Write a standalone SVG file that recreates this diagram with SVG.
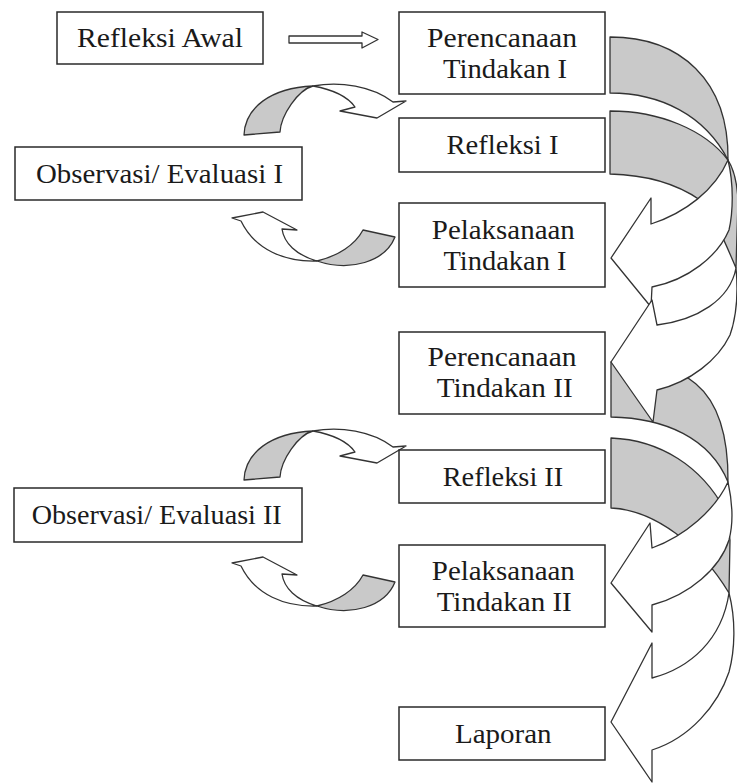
<svg xmlns="http://www.w3.org/2000/svg" width="737" height="783" viewBox="0 0 737 783">
<style>
.box{fill:#fff;stroke:#2a2a2a;stroke-width:1.5}
.t{font-family:"Liberation Serif","Times New Roman",serif;font-size:27px;fill:#1a1a1a;text-anchor:middle}
.w{fill:#fff;stroke:#333;stroke-width:1.3;stroke-linejoin:round}
.g{fill:#c9c9c9;stroke:#333;stroke-width:1.3;stroke-linejoin:round}
</style>
<defs>
<g id="smallLoop">
<path class="g" d="M244,135 C245,108 270,88 313,86 C298,90 281,115 280,132 Z"/>
<path class="w" d="M313,86 C340,81 372,86 393,102 L406,101 L377,118 L340,111 L355,107 C348,97 335,90 313,86 Z"/>
<path class="g" d="M317,261 C350,272 385,262 395,237 L363,230 C355,245 338,256 317,261 Z"/>
<path class="w" d="M317,261 C285,262 255,250 241,221 L232,218 L263,212 L297,230 L282,229 C284,243 296,255 317,261 Z"/>
</g>
</defs>
<rect width="737" height="783" fill="#fff"/>
<g id="connectors">
<path id="arrow-awal" class="w" d="M289,36 L362,36 L362,32 L378,39.5 L362,48 L362,43 L289,43 Z"/>
<use id="loop-1" href="#smallLoop"/>
<use id="loop-2" href="#smallLoop" transform="translate(0,345)"/>
<g id="spiral-1">
<path class="g" d="M610,111 L610,174 C650,175 680,186 700,200 C712,212 722,235 736,268 L738,200 C737,180 733,168 728,160 C705,130 660,111 610,111 Z"/>
<path class="g" d="M610,37 L610,93 C660,93 705,115 728,160 C729,80 680,37 610,37 Z"/>
<path class="w" d="M728,160 C734,185 733,212 729,230 C718,256 688,280 652,287 L651,307 L611,258 L651,198 L651,224 C685,213 715,190 728,160 Z"/>
</g>
<g id="spiral-2">
<path class="g" d="M611,438 C660,440 702,466 726,512 L730,540 L729,593 C700,545 655,510 611,508 Z"/>
<path class="g" d="M611,362 L611,417 C665,418 710,438 728,482 C729,380 680,362 611,362 Z"/>
<path class="w" d="M736,268 C738,290 737,315 730,335 C718,360 690,382 657,390 L653,422 L611,362 L652,300 L657,325 C697,320 730,300 736,268 Z"/>
<path class="w" d="M728,482 C733,505 733,525 729,540 C720,568 690,595 652,605 L652,632 L611,583 L650,523 L652,548 C685,536 715,510 728,482 Z"/>
<path class="w" d="M729,593 C736,620 735,650 729,672 C718,705 690,738 652,750 L652,782 L611,722 L652,643 L652,678 C690,668 722,640 729,593 Z"/>
</g>
</g>
<g id="refleksi-awal"><rect class="box" x="57" y="12" width="206" height="52"/><text class="t" x="160" y="47" textLength="166" lengthAdjust="spacingAndGlyphs">Refleksi Awal</text></g>
<g id="observasi-1"><rect class="box" x="15" y="147" width="287" height="53"/><text class="t" x="159.5" y="182.5" textLength="247" lengthAdjust="spacingAndGlyphs">Observasi/ Evaluasi I</text></g>
<g id="observasi-2"><rect class="box" x="14" y="488" width="288" height="54"/><text class="t" x="156.7" y="524" textLength="250" lengthAdjust="spacingAndGlyphs">Observasi/ Evaluasi II</text></g>
<g id="perencanaan-1"><rect class="box" x="399" y="12" width="206" height="82"/><text class="t" x="502" y="46.5" textLength="150" lengthAdjust="spacingAndGlyphs">Perencanaan</text><text class="t" x="505" y="77.5" textLength="124" lengthAdjust="spacingAndGlyphs">Tindakan I</text></g>
<g id="refleksi-1"><rect class="box" x="399" y="118" width="206" height="54"/><text class="t" x="502.5" y="154" textLength="112" lengthAdjust="spacingAndGlyphs">Refleksi I</text></g>
<g id="pelaksanaan-1"><rect class="box" x="399" y="203" width="206" height="84"/><text class="t" x="503.3" y="238.5" textLength="143" lengthAdjust="spacingAndGlyphs">Pelaksanaan</text><text class="t" x="505" y="270" textLength="123" lengthAdjust="spacingAndGlyphs">Tindakan I</text></g>
<g id="perencanaan-2"><rect class="box" x="399" y="332" width="206" height="82"/><text class="t" x="502" y="366" textLength="149" lengthAdjust="spacingAndGlyphs">Perencanaan</text><text class="t" x="504.7" y="397" textLength="136" lengthAdjust="spacingAndGlyphs">Tindakan II</text></g>
<g id="refleksi-2"><rect class="box" x="399" y="450" width="206" height="53"/><text class="t" x="503" y="485.5" textLength="120.6" lengthAdjust="spacingAndGlyphs">Refleksi II</text></g>
<g id="pelaksanaan-2"><rect class="box" x="399" y="545" width="206" height="82"/><text class="t" x="503.3" y="579.5" textLength="143" lengthAdjust="spacingAndGlyphs">Pelaksanaan</text><text class="t" x="504.2" y="610.5" textLength="135" lengthAdjust="spacingAndGlyphs">Tindakan II</text></g>
<g id="laporan"><rect class="box" x="399" y="707" width="206" height="53"/><text class="t" x="503.3" y="743" textLength="96.7" lengthAdjust="spacingAndGlyphs">Laporan</text></g>
</svg>
